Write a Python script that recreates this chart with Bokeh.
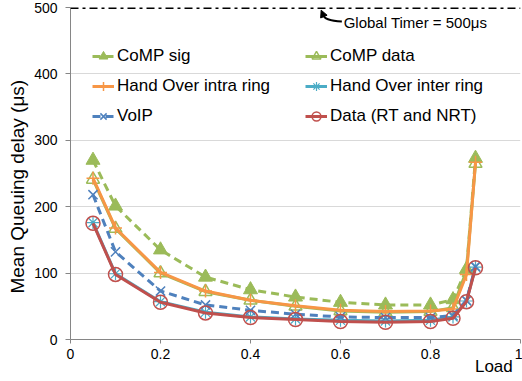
from bokeh.plotting import figure
from bokeh.models import (Legend, LegendItem, Span, Label, Arrow, NormalHead,
                          FixedTicker, CustomJSTickFormatter, ColumnDataSource)
from bokeh.embed import file_html
from bokeh.resources import INLINE

# ---- data -------------------------------------------------------------
loads = [0.05, 0.1, 0.2, 0.3, 0.4, 0.5, 0.6, 0.7, 0.8, 0.85, 0.88, 0.9]
comp_sig = [270, 201, 135, 94, 75, 64, 56, 52, 52, 60, 106, 273]
comp_data = [241, 167, 100, 72, 59, 50, 43, 41, 42, 48, 104, 265]
ho_intra = [243, 168, 101, 73, 59, 51, 44, 42, 43, 46, 98, 267]
ho_inter = [176, 99, 57, 41, 34, 31, 29, 28, 29, 34, 58, 109]
voip = [218, 132, 73, 52, 44, 38, 34, 33, 33, 36, 59, 110]
data_rt = [175, 98, 56, 40, 33, 30, 27, 26, 27, 32, 57, 108]
x_ticks = [0, 0.2, 0.4, 0.6, 0.8, 1.0]
y_ticks = [0, 100, 200, 300, 400, 500]
global_timer = 500

FONT = "Liberation Sans"
NB = "\u00a0"

p = figure(width=522, height=381, output_backend="svg", toolbar_location=None,
           x_range=(0, 1), y_range=(0, 500),
           min_border_left=70, min_border_right=2, min_border_top=7,
           min_border_bottom=42)
p.outline_line_color = None
p.background_fill_color = "white"

# grids
p.xgrid.grid_line_color = None
p.ygrid.grid_line_color = "#D9D9D9"
p.ygrid.grid_line_width = 1
p.ygrid.ticker = FixedTicker(ticks=[100, 200, 300, 400])

# axes
p.xaxis.ticker = FixedTicker(ticks=x_ticks)
p.xaxis.formatter = CustomJSTickFormatter(code="return tick.toFixed(1).replace(/\\.0$/, '')")
p.yaxis.ticker = FixedTicker(ticks=y_ticks)
for ax in (p.xaxis[0], p.yaxis[0]):
    ax.axis_line_color = "#868686"
    ax.major_tick_line_color = "#868686"
    ax.minor_tick_line_color = None
    ax.major_tick_in = 0
    ax.major_label_text_font = FONT
    ax.major_label_text_font_size = "14px"
    ax.major_label_text_color = "#000000"
    ax.axis_label_text_font = FONT
    ax.axis_label_text_font_style = "normal"
    ax.axis_label_text_color = "#000000"
p.xaxis.major_tick_out = 4
p.xaxis.major_label_standoff = 5
p.yaxis.major_tick_out = 5
p.yaxis.major_label_standoff = 8

# y title: trailing no-break spaces push the visible text a little downwards
p.yaxis.axis_label = "Mean Queuing delay (μs)" + NB * 5
p.yaxis.axis_label_text_font_size = "19px"
p.yaxis.axis_label_standoff = 3
# x title sits at the right end: leading no-break spaces shift it right
p.xaxis.axis_label = NB * 84 + "Load"
p.xaxis.axis_label_text_font_size = "17px"
p.xaxis.axis_label_standoff = -5

GREEN = "#9BBB59"
ORANGE = "#F79646"
CYAN = "#4BACC6"
BLUE = "#4F81BD"
RED = "#C0504D"

src = ColumnDataSource(dict(x=loads, comp_sig=comp_sig, comp_data=comp_data,
                            ho_intra=ho_intra, ho_inter=ho_inter, voip=voip,
                            data_rt=data_rt))

items = []

l1 = p.line("x", "comp_sig", source=src, line_color=GREEN, line_width=3, line_dash="8 5")
m1 = p.scatter("x", "comp_sig", source=src, marker="triangle", size=14,
               fill_color=GREEN, line_color=GREEN)
items.append(LegendItem(label="CoMP sig", renderers=[l1, m1]))

l2 = p.line("x", "comp_data", source=src, line_color=GREEN, line_width=3)
m2 = p.scatter("x", "comp_data", source=src, marker="triangle", size=13,
               fill_color=None, line_color=GREEN, line_width=1.5)
items.append(LegendItem(label="CoMP data", renderers=[l2, m2]))

l3 = p.line("x", "ho_intra", source=src, line_color=ORANGE, line_width=3)
m3 = p.scatter("x", "ho_intra", source=src, marker="cross", size=13,
               line_color=ORANGE, line_width=1.5)
items.append(LegendItem(label="Hand Over intra ring", renderers=[l3, m3]))

l4 = p.line("x", "ho_inter", source=src, line_color=CYAN, line_width=3)
m4 = p.scatter("x", "ho_inter", source=src, marker="asterisk", size=13,
               line_color=CYAN, line_width=1.2)
items.append(LegendItem(label="Hand Over inter ring", renderers=[l4, m4]))

l5 = p.line("x", "voip", source=src, line_color=BLUE, line_width=3, line_dash="8 5")
m5 = p.scatter("x", "voip", source=src, marker="x", size=13,
               line_color=BLUE, line_width=1.5)
items.append(LegendItem(label="VoIP", renderers=[l5, m5]))

l6 = p.line("x", "data_rt", source=src, line_color=RED, line_width=3)
m6 = p.scatter("x", "data_rt", source=src, marker="circle", size=14,
               fill_color=None, line_color=RED, line_width=1.5)
items.append(LegendItem(label="Data (RT and NRT)", renderers=[l6, m6]))

legend = Legend(items=items, orientation="horizontal", ncols=2,
                location=(22, 208), border_line_alpha=0, background_fill_alpha=0,
                padding=0, margin=0, spacing=0, glyph_width=22, glyph_height=30,
                label_height=30, label_width=188, label_standoff=3,
                label_text_font=FONT, label_text_font_size="17px",
                label_text_color="#000000")
p.add_layout(legend)

# global timer line
p.add_layout(Span(location=global_timer, dimension="width", line_color="black",
                  line_width=3, line_dash="8 4 3 4"))

p.add_layout(Label(x=0.607, y=478, text="Global Timer = 500μs", text_font=FONT,
                   text_font_size="15px", text_baseline="middle", text_align="left",
                   text_color="#000000"))
p.bezier(x0=[0.603], y0=[479], x1=[0.562], y1=[489], cx0=[0.575], cy0=[480],
         cx1=[0.563], cy1=[483], line_color="black", line_width=2)
p.add_layout(Arrow(x_start=0.562, y_start=488, x_end=0.557, y_end=496,
                   line_color="black", line_width=2,
                   end=NormalHead(size=7, fill_color="black", line_color="black")))

open("out.html", "w").write(file_html(p, INLINE))
